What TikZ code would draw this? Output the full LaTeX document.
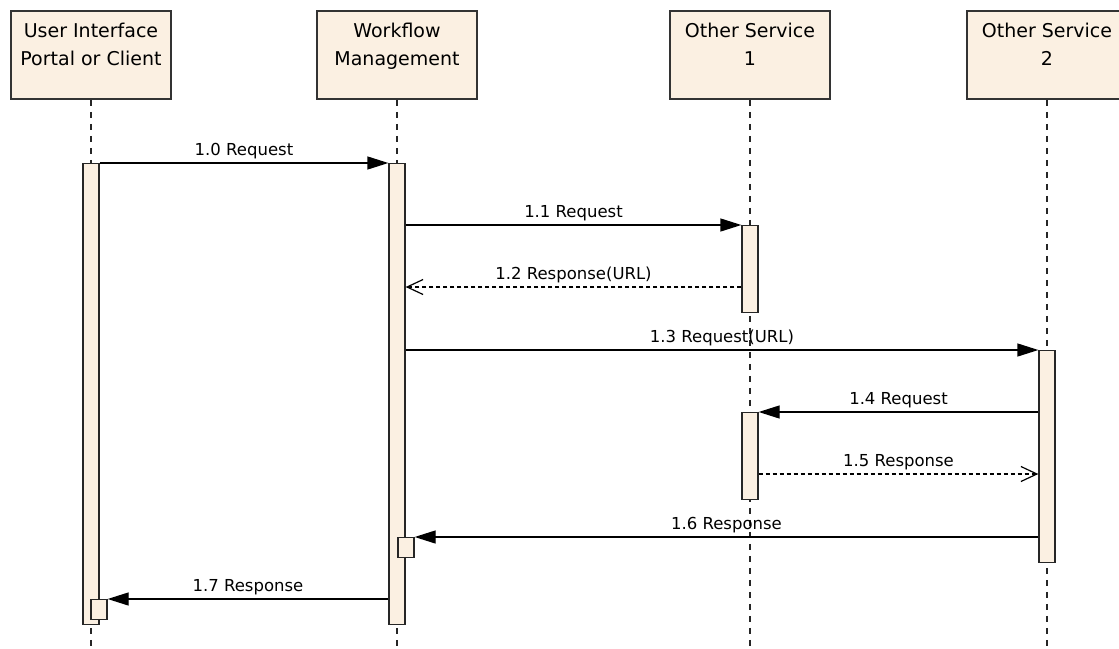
\documentclass[tikz,border=0pt]{standalone}
\usepackage{fontspec}
\setmainfont{DejaVu Sans}
\usetikzlibrary{arrows.meta,positioning}
\definecolor{eabox}{RGB}{251,240,226}

\begin{document}
\begin{tikzpicture}[x=1pt, y=-1pt,
  head/.style={draw=black!80, line width=1.5pt, fill=eabox, minimum width=160pt, minimum height=88pt, inner sep=0pt},
  headtext/.style={font=\fontsize{19}{28}\selectfont, align=center, inner sep=0pt},
  lifeline/.style={draw=black!85, line width=1.3pt, dash pattern=on 6pt off 6pt},
  actbar/.style={draw=black!85, line width=1.3pt, fill=eabox, minimum width=16pt, inner sep=0pt, anchor=north},
  call/.style={line width=1.3pt, -{Triangle[length=21pt,width=13pt]}},
  reply/.style={line width=1.2pt, dash pattern=on 4pt off 3pt, -{Straight Barb[length=16pt,width=15pt]}},
  msglabel/.style={font=\fontsize{16.5}{18}\selectfont, above, inner sep=3pt, midway},
]
  \useasboundingbox (0,0) rectangle (1119,648);

  % participants
  \node[head] (ui)  at (91,55)   {};
  \node[head] (wm)  at (397,55)  {};
  \node[head] (osa) at (750,55)  {};
  \node[head] (osb) at (1047,55) {};
  \node[headtext, below=13pt of ui.north]  {User Interface\\Portal or Client};
  \node[headtext, below=13pt of wm.north]  {Workflow\\Management};
  \node[headtext, below=13pt of osa.north] {Other Service\\1};
  \node[headtext, below=13pt of osb.north] {Other Service\\2};

  \coordinate (bottom) at (0,648);
  \foreach \p in {ui,wm,osa,osb}
    \draw[lifeline] (\p.south) -- (\p.south |- bottom);

  % activations
  \node[actbar, minimum height=461pt] (uibar)   at (91,163)   {};
  \node[actbar, minimum height=461pt] (wmbar)   at (397,163)  {};
  \node[actbar, minimum height=87pt]  (osabar)  at (750,225)  {};
  \node[actbar, minimum height=87pt]  (osabar2) at (750,412)  {};
  \node[actbar, minimum height=212pt] (osbbar)  at (1047,350) {};
  \node[actbar, minimum height=20pt]  (wmself)  at (406,537)  {};
  \node[actbar, minimum height=20pt]  (uiself)  at (99,599)   {};

  % messages
  \coordinate (m12) at (0,287);
  \coordinate (m15) at (0,474);
  \draw[call] (uibar.north east) -- node[msglabel] {1.0 Request} (wmbar.north west);
  \draw[call] (wmbar.east |- osabar.north) -- node[msglabel] {1.1 Request} (osabar.north west);
  \draw[reply] (osabar.west |- m12) -- node[msglabel] {1.2 Response(URL)} (wmbar.east |- m12);
  \draw[call] (wmbar.east |- osbbar.north) -- node[msglabel] {1.3 Request(URL)} (osbbar.north west);
  \draw[call] (osbbar.west |- osabar2.north) -- node[msglabel] {1.4 Request} (osabar2.north east);
  \draw[reply] (osabar2.east |- m15) -- node[msglabel] {1.5 Response} (osbbar.west |- m15);
  \draw[call] (osbbar.west |- wmself.north) -- node[msglabel] {1.6 Response} (wmself.north east);
  \draw[call] (wmbar.west |- uiself.north) -- node[msglabel] {1.7 Response} (uiself.north east);
\end{tikzpicture}
\end{document}
